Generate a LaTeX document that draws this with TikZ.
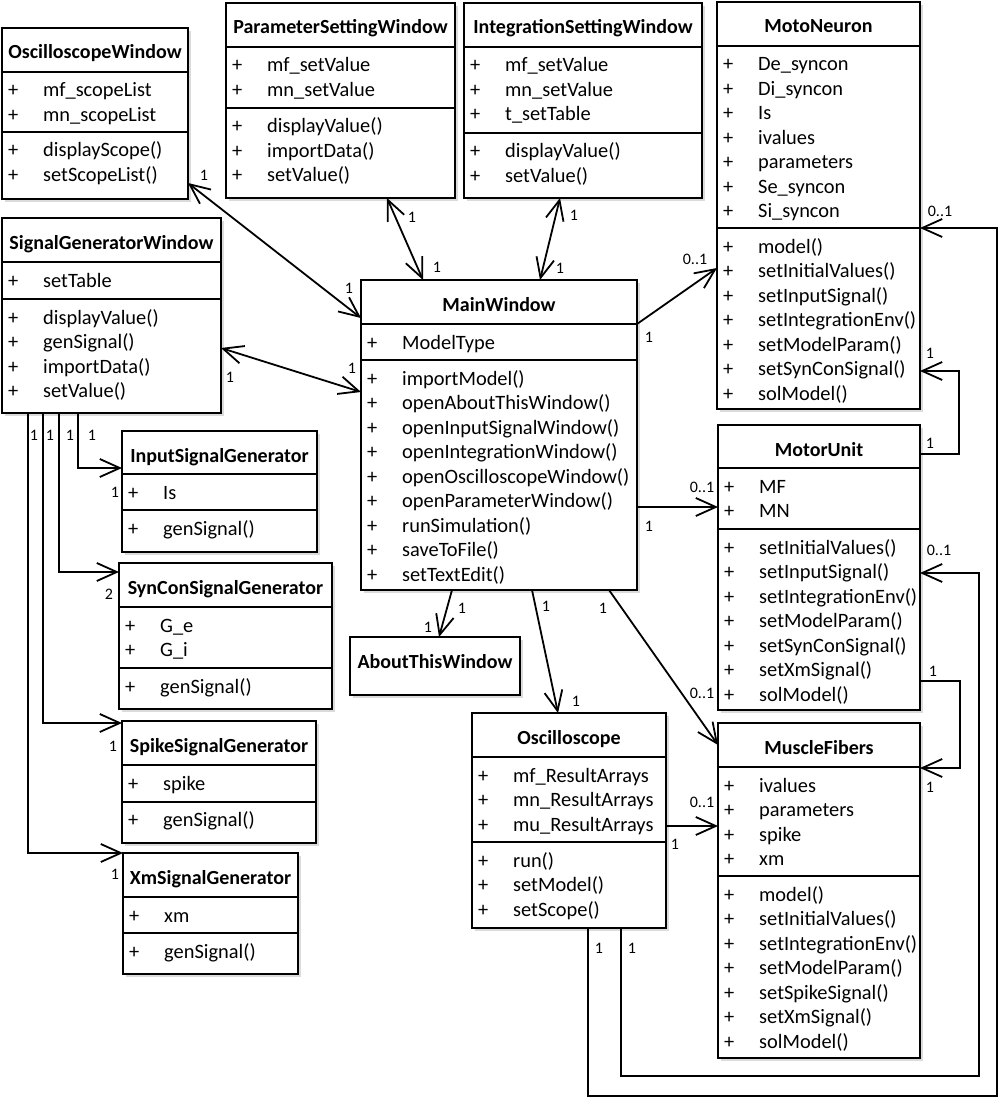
\documentclass[tikz,border=0pt]{standalone}
\usepackage{fontspec}
\setmainfont{Carlito}
\usetikzlibrary{arrows.meta,fit,shadows}
\newcommand\umlrows[4]{% prefix, box left x, first baseline y, list
  \foreach \t [count=\i] in {#4} {
    \node[rowtxt] (#1\i) at ({#2+6}, {#3+24.5*(\i-1)}) {\makebox[35pt][l]{+}\t};
  }
}
\begin{document}
\begin{tikzpicture}[x=1pt,y=-1pt,
  box/.style={draw, line width=2pt, fill=white, inner sep=0pt, outer sep=0pt,
    drop shadow={shadow xshift=3pt, shadow yshift=-3pt, fill=black!14, opacity=1}},
  sepl/.style={line width=2pt},
  ttl/.style={font=\fontsize{20}{24}\selectfont\bfseries, inner sep=0pt, anchor=base},
  rowtxt/.style={font=\fontsize{20.4}{24}\selectfont, inner sep=0pt, anchor=base west},
  lbl/.style={font=\fontsize{16}{19}\selectfont, inner sep=0pt},
  conn/.style={line width=1.8pt},
  >={Straight Barb[length=20pt,width=18pt]}
]
\useasboundingbox (0,0) rectangle (1000,1099);
\fill[white] (0,0) rectangle (1000,1099);

% ---------- OscilloscopeWindow
\node[box, fit={(2,28) (188,199)}] (ow) {};
\draw[sepl] (ow.west |- 0,72) -- (ow.east |- 0,72);
\draw[sepl] (ow.west |- 0,132) -- (ow.east |- 0,132);
\node[ttl] (ow-t) at (ow.north |- 0,59) {OscilloscopeWindow};
\umlrows{owa}{2}{97}{mf\_scopeList, mn\_scopeList}
\umlrows{owm}{2}{157}{displayScope(), setScopeList()}

% ---------- ParameterSettingWindow
\node[box, fit={(226,3) (455,198)}] (psw) {};
\draw[sepl] (psw.west |- 0,47) -- (psw.east |- 0,47);
\draw[sepl] (psw.west |- 0,108) -- (psw.east |- 0,108);
\node[ttl] (psw-t) at (psw.north |- 0,34) {ParameterSettingWindow};
\umlrows{pswa}{226}{72}{mf\_setValue, mn\_setValue}
\umlrows{pswm}{226}{133}{displayValue(), importData(), setValue()}

% ---------- IntegrationSettingWindow
\node[box, fit={(464,3) (702,198)}] (isw) {};
\draw[sepl] (isw.west |- 0,47) -- (isw.east |- 0,47);
\draw[sepl] (isw.west |- 0,133) -- (isw.east |- 0,133);
\node[ttl] (isw-t) at (isw.north |- 0,34) {IntegrationSettingWindow};
\umlrows{iswa}{464}{72}{mf\_setValue, mn\_setValue, t\_setTable}
\umlrows{iswm}{464}{158}{displayValue(), setValue()}

% ---------- MotoNeuron
\node[box, fit={(717,2) (920,409)}] (mn) {};
\draw[sepl] (mn.west |- 0,46) -- (mn.east |- 0,46);
\draw[sepl] (mn.west |- 0,228) -- (mn.east |- 0,228);
\node[ttl] (mn-t) at (mn.north |- 0,33) {MotoNeuron};
\umlrows{mna}{717}{71}{De\_syncon, Di\_syncon, Is, ivalues, parameters, Se\_syncon, Si\_syncon}
\umlrows{mnm}{717}{253}{model(), setInitialValues(), setInputSignal(), setIntegrationEnv(), setModelParam(), setSynConSignal(), solModel()}

% ---------- SignalGeneratorWindow
\node[box, fit={(2,218) (221,413)}] (sgw) {};
\draw[sepl] (sgw.west |- 0,262) -- (sgw.east |- 0,262);
\draw[sepl] (sgw.west |- 0,299) -- (sgw.east |- 0,299);
\node[ttl] (sgw-t) at (sgw.north |- 0,249) {SignalGeneratorWindow};
\umlrows{sgwa}{2}{287}{setTable}
\umlrows{sgwm}{2}{324}{displayValue(), genSignal(), importData(), setValue()}

% ---------- MainWindow
\node[box, fit={(361,280) (637,590)}] (mw) {};
\draw[sepl] (mw.west |- 0,324) -- (mw.east |- 0,324);
\draw[sepl] (mw.west |- 0,360) -- (mw.east |- 0,360);
\node[ttl] (mw-t) at (mw.north |- 0,311) {MainWindow};
\umlrows{mwa}{361}{349}{ModelType}
\umlrows{mwm}{361}{385}{importModel(), openAboutThisWindow(), openInputSignalWindow(), openIntegrationWindow(), openOscilloscopeWindow(), openParameterWindow(), runSimulation(), saveToFile(), setTextEdit()}

% ---------- MotorUnit
\node[box, fit={(718,425) (920,710)}] (mu) {};
\draw[sepl] (mu.west |- 0,468) -- (mu.east |- 0,468);
\draw[sepl] (mu.west |- 0,529) -- (mu.east |- 0,529);
\node[ttl] (mu-t) at (mu.north |- 0,456) {MotorUnit};
\umlrows{mua}{718}{493}{MF, MN}
\umlrows{mum}{718}{554}{setInitialValues(), setInputSignal(), setIntegrationEnv(), setModelParam(), setSynConSignal(), setXmSignal(), solModel()}

% ---------- InputSignalGenerator
\node[box, fit={(122,431) (317,552)}] (isg) {};
\draw[sepl] (isg.west |- 0,474) -- (isg.east |- 0,474);
\draw[sepl] (isg.west |- 0,510) -- (isg.east |- 0,510);
\node[ttl] (isg-t) at (isg.north |- 0,462) {InputSignalGenerator};
\umlrows{isga}{122}{499}{Is}
\umlrows{isgm}{122}{535}{genSignal()}

% ---------- SynConSignalGenerator
\node[box, fit={(119,563) (332,709)}] (ssg) {};
\draw[sepl] (ssg.west |- 0,607) -- (ssg.east |- 0,607);
\draw[sepl] (ssg.west |- 0,668) -- (ssg.east |- 0,668);
\node[ttl] (ssg-t) at (ssg.north |- 0,594) {SynConSignalGenerator};
\umlrows{ssga}{119}{632}{G\_e, G\_i}
\umlrows{ssgm}{119}{693}{genSignal()}

% ---------- SpikeSignalGenerator
\node[box, fit={(122,721) (316,843)}] (spk) {};
\draw[sepl] (spk.west |- 0,765) -- (spk.east |- 0,765);
\draw[sepl] (spk.west |- 0,802) -- (spk.east |- 0,802);
\node[ttl] (spk-t) at (spk.north |- 0,752) {SpikeSignalGenerator};
\umlrows{spka}{122}{790}{spike}
\umlrows{spkm}{122}{826}{genSignal()}

% ---------- XmSignalGenerator
\node[box, fit={(123,853) (298,974)}] (xsg) {};
\draw[sepl] (xsg.west |- 0,897) -- (xsg.east |- 0,897);
\draw[sepl] (xsg.west |- 0,933) -- (xsg.east |- 0,933);
\node[ttl] (xsg-t) at (xsg.north |- 0,884) {XmSignalGenerator};
\umlrows{xsga}{123}{922}{xm}
\umlrows{xsgm}{123}{958}{genSignal()}

% ---------- AboutThisWindow
\node[box, fit={(350,637) (520,695)}] (atw) {};
\node[ttl] (atw-t) at (atw.north |- 0,668) {AboutThisWindow};

% ---------- Oscilloscope
\node[box, fit={(472,713) (666,928)}] (osc) {};
\draw[sepl] (osc.west |- 0,757) -- (osc.east |- 0,757);
\draw[sepl] (osc.west |- 0,842) -- (osc.east |- 0,842);
\node[ttl] (osc-t) at (osc.north |- 0,744) {Oscilloscope};
\umlrows{osca}{472}{782}{mf\_ResultArrays, mn\_ResultArrays, mu\_ResultArrays}
\umlrows{oscm}{472}{867}{run(), setModel(), setScope()}

% ---------- MuscleFibers
\node[box, fit={(718,723) (920,1058)}] (mf) {};
\draw[sepl] (mf.west |- 0,767) -- (mf.east |- 0,767);
\draw[sepl] (mf.west |- 0,876) -- (mf.east |- 0,876);
\node[ttl] (mf-t) at (mf.north |- 0,754) {MuscleFibers};
\umlrows{mfa}{718}{792}{ivalues, parameters, spike, xm}
\umlrows{mfm}{718}{901}{model(), setInitialValues(), setIntegrationEnv(), setModelParam(), setSpikeSignal(), setXmSignal(), solModel()}

% ---------- connectors
\draw[conn,<->] (ow.east |- 0,183) -- (mw.west |- 0,318);
\draw[conn,<->] (psw.south -| 387,0) -- (mw.north -| 423,0);
\draw[conn,<->] (isw.south -| 560,0) -- (mw.north -| 540,0);
\draw[conn,->] (mw.east |- 0,324) -- (mn.west |- 0,268);
\draw[conn,<->] (sgw.east |- 0,348) -- (mw.west |- 0,392);
\draw[conn,->] (mw.east |- 0,507) -- (mu.west |- 0,507);
\draw[conn,->] (mw.south -| 452,0) -- (atw.north -| 439,0);
\draw[conn,->] (mw.south -| 532,0) -- (osc.north -| 558,0);
\draw[conn,->] (mw.south -| 609,0) -- (mf.west |- 0,745);
\draw[conn,->] (osc.east |- 0,826) -- (mf.west |- 0,826);
\draw[conn,->] (osc.south -| 588,0) -- (588,1096) -- (997,1096) -- (997,228) -- (mn.east |- 0,228);
\draw[conn,->] (osc.south -| 621,0) -- (621,1076) -- (979,1076) -- (979,573) -- (mu.east |- 0,573);
\draw[conn,->] (mu.east |- 0,454) -- (959,454) -- (959,371) -- (mn.east |- 0,371);
\draw[conn,->] (mu.east |- 0,681) -- (960,681) -- (960,768) -- (mf.east |- 0,768);
\draw[conn,->] (sgw.south -| 78,0) |- (isg.west |- 0,468);
\draw[conn,->] (sgw.south -| 59,0) |- (ssg.west |- 0,572);
\draw[conn,->] (sgw.south -| 43,0) |- (spk.west |- 0,723);
\draw[conn,->] (sgw.south -| 28,0) |- (xsg.west |- 0,853);

% ---------- multiplicity labels
\node[lbl] (l1) at (204,175) {1};
\node[lbl] (l2) at (349,288) {1};
\node[lbl] (l3) at (412,217) {1};
\node[lbl] (l4) at (437,267) {1};
\node[lbl] (l5) at (574,215) {1};
\node[lbl] (l6) at (560,268) {1};
\node[lbl] (l7) at (649,337) {1};
\node[lbl] (l8) at (695,259) {0..1};
\node[lbl] (l9) at (230,377) {1};
\node[lbl] (l10) at (352,368) {1};
\node[lbl] (l11) at (649,526) {1};
\node[lbl] (l12) at (702,487) {0..1};
\node[lbl] (l13) at (462,608) {1};
\node[lbl] (l14) at (428,627) {1};
\node[lbl] (l15) at (546,606) {1};
\node[lbl] (l16) at (576,701) {1};
\node[lbl] (l17) at (603,608) {1};
\node[lbl] (l18) at (702,693) {0..1};
\node[lbl] (l19) at (675,844) {1};
\node[lbl] (l20) at (702,802) {0..1};
\node[lbl] (l21) at (599,948) {1};
\node[lbl] (l22) at (940,211) {0..1};
\node[lbl] (l23) at (632,948) {1};
\node[lbl] (l24) at (939,550) {0..1};
\node[lbl] (l25) at (930,443) {1};
\node[lbl] (l26) at (930,353) {1};
\node[lbl] (l27) at (933,671) {1};
\node[lbl] (l28) at (930,787) {1};
\node[lbl] (l29) at (92,435) {1};
\node[lbl] (l30) at (115,492) {1};
\node[lbl] (l31) at (70,435) {1};
\node[lbl] (l32) at (109,594) {2};
\node[lbl] (l33) at (50,435) {1};
\node[lbl] (l34) at (113,746) {1};
\node[lbl] (l35) at (34,435) {1};
\node[lbl] (l36) at (115,874) {1};
\end{tikzpicture}
\end{document}
